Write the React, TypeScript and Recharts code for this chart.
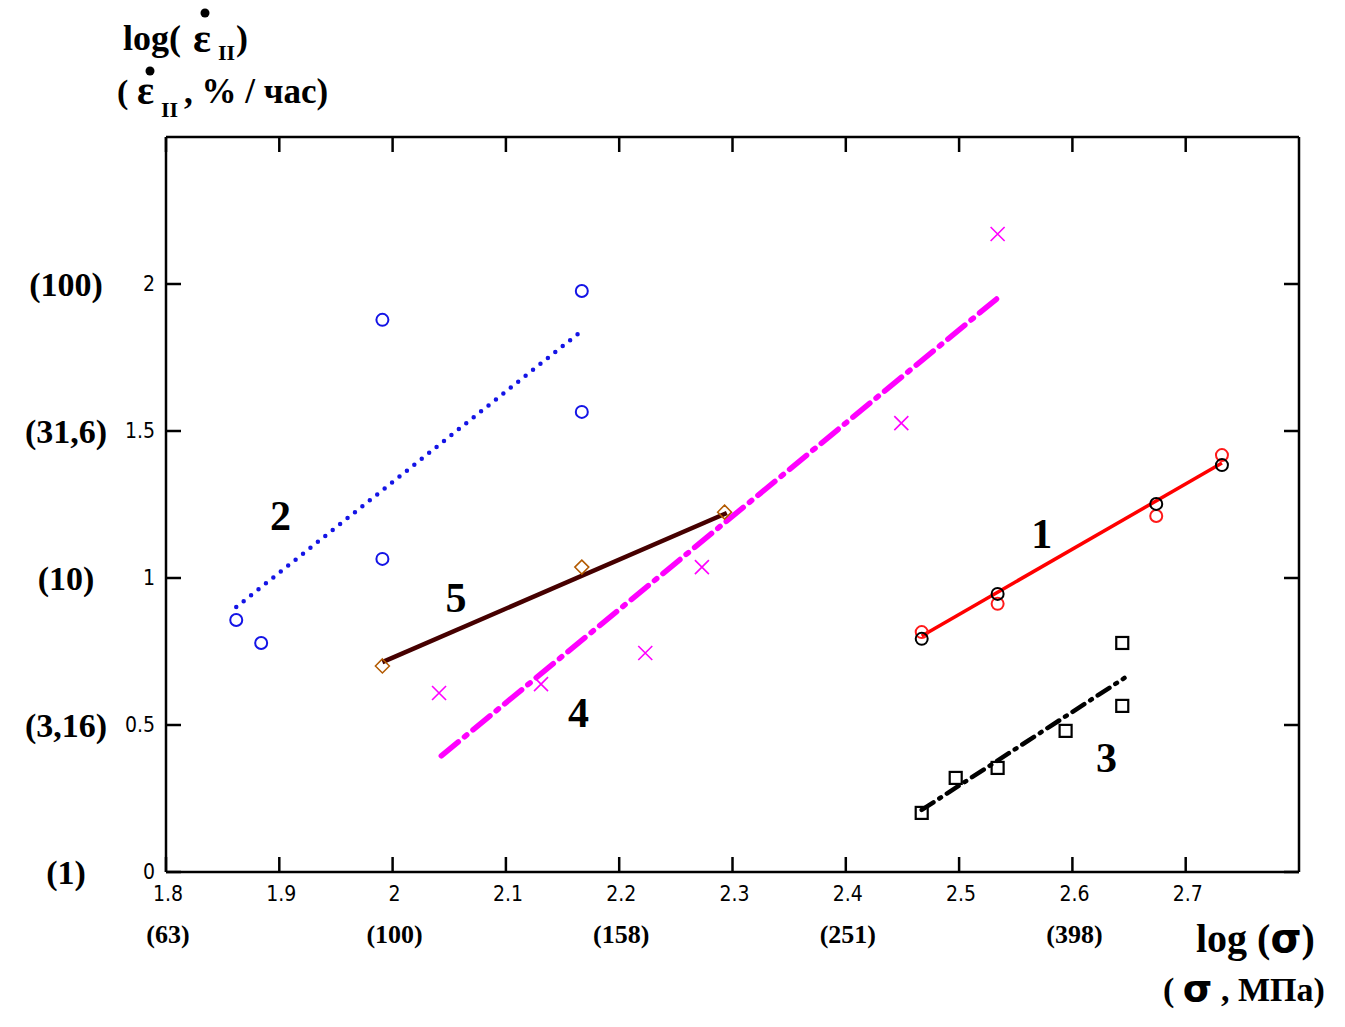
import { ComposedChart, XAxis, YAxis, Scatter, Line } from 'recharts'

// log(sigma) axis
const xTicks = [1.8, 1.9, 2, 2.1, 2.2, 2.3, 2.4, 2.5, 2.6, 2.7]
const yTicks = [0, 0.5, 1, 1.5, 2]
// secondary tick labels in physical units
const sigmaLabels: Record<string, string> = { '1.8': '(63)', '2': '(100)', '2.2': '(158)', '2.4': '(251)', '2.6': '(398)' }
const rateLabels: Record<string, string> = { '0': '(1)', '0.5': '(3,16)', '1': '(10)', '1.5': '(31,6)', '2': '(100)' }

// 1: two data sets (red and black circles) with red fit
const s1Red = [
  { x: 2.467, y: 0.816 },
  { x: 2.534, y: 0.912 },
  { x: 2.674, y: 1.211 },
  { x: 2.732, y: 1.418 },
]
const s1Black = [
  { x: 2.467, y: 0.793 },
  { x: 2.534, y: 0.946 },
  { x: 2.674, y: 1.252 },
  { x: 2.732, y: 1.384 },
]
const fit1 = [
  { x: 2.467, y: 0.803 },
  { x: 2.732, y: 1.391 },
]

// 2: blue circles, dotted fit
const s2 = [
  { x: 1.862, y: 0.857 },
  { x: 1.884, y: 0.779 },
  { x: 1.991, y: 1.878 },
  { x: 1.991, y: 1.065 },
  { x: 2.167, y: 1.976 },
  { x: 2.167, y: 1.565 },
]
const fit2 = [
  { x: 1.862, y: 0.901 },
  { x: 2.169, y: 1.847 },
]

// 3: black squares, dash-dot fit
const s3 = [
  { x: 2.467, y: 0.201 },
  { x: 2.497, y: 0.32 },
  { x: 2.534, y: 0.354 },
  { x: 2.594, y: 0.48 },
  { x: 2.644, y: 0.779 },
  { x: 2.644, y: 0.565 },
]
const fit3 = [
  { x: 2.467, y: 0.211 },
  { x: 2.646, y: 0.66 },
]

// 4: magenta crosses, dash-dot fit
const s4 = [
  { x: 2.041, y: 0.609 },
  { x: 2.131, y: 0.639 },
  { x: 2.223, y: 0.745 },
  { x: 2.273, y: 1.037 },
  { x: 2.449, y: 1.527 },
  { x: 2.534, y: 2.17 },
]
const fit4 = [
  { x: 2.043, y: 0.395 },
  { x: 2.534, y: 1.952 },
]

// 5: brown diamonds, solid fit
const s5 = [
  { x: 1.991, y: 0.701 },
  { x: 2.167, y: 1.037 },
  { x: 2.293, y: 1.224 },
]
const fit5 = [
  { x: 1.991, y: 0.714 },
  { x: 2.295, y: 1.221 },
]

const curveLabels = [
  { x: 2.573, y: 1.153, text: '1' },
  { x: 1.901, y: 1.214, text: '2' },
  { x: 2.63, y: 0.391, text: '3' },
  { x: 2.164, y: 0.544, text: '4' },
  { x: 2.056, y: 0.935, text: '5' },
]

const serif = '"Liberation Serif", "Times New Roman", serif'
const narrow = '"Liberation Sans Narrow", "DejaVu Sans Condensed", "Liberation Sans", sans-serif'
const TICK = 15

const fmt = (v: number) => String(Math.round(v * 10) / 10)

const BottomTick = (props: any) => {
  const { x, y, payload } = props
  const key = fmt(payload.value)
  return (
    <g>
      <line x1={x} x2={x} y1={y} y2={y - TICK} stroke="#000" strokeWidth={2.5} />
      <text x={x + 2} y={y + 29} textAnchor="middle" fontFamily={narrow} fontSize={21} fill="#000">
        {key}
      </text>
      {sigmaLabels[key] && (
        <text x={x + 2} y={y + 71} textAnchor="middle" fontFamily={serif} fontWeight="bold" fontSize={26} fill="#000">
          {sigmaLabels[key]}
        </text>
      )}
    </g>
  )
}

const TopTick = (props: any) => {
  const { x, y } = props
  return <line x1={x} x2={x} y1={y} y2={y + TICK} stroke="#000" strokeWidth={2.5} />
}

const LeftTick = (props: any) => {
  const { x, y, payload } = props
  const key = fmt(payload.value)
  return (
    <g>
      <line x1={x} x2={x + TICK} y1={y} y2={y} stroke="#000" strokeWidth={2.5} />
      <text x={x - 11} y={y + 7} textAnchor="end" fontFamily={narrow} fontSize={21} fill="#000">
        {key}
      </text>
      {rateLabels[key] && (
        <text x={x - 100} y={y + 12} textAnchor="middle" fontFamily={serif} fontWeight="bold" fontSize={34} fill="#000">
          {rateLabels[key]}
        </text>
      )}
    </g>
  )
}

const RightTick = (props: any) => {
  const { x, y } = props
  return <line x1={x} x2={x - TICK} y1={y} y2={y} stroke="#000" strokeWidth={2.5} />
}

const OpenCircle = (color: string) => (p: any) => (
  <circle cx={p.cx} cy={p.cy} r={6} fill="none" stroke={color} strokeWidth={2} />
)

const Square = (p: any) => (
  <rect x={p.cx - 6} y={p.cy - 6} width={12} height={12} fill="none" stroke="#000" strokeWidth={2.2} />
)

const Diamond = (p: any) => (
  <path
    d={`M${p.cx},${p.cy - 7} L${p.cx + 7},${p.cy} L${p.cx},${p.cy + 7} L${p.cx - 7},${p.cy} Z`}
    fill="none"
    stroke="#b35a00"
    strokeWidth={1.5}
  />
)

const Cross = (p: any) => (
  <path
    d={`M${p.cx - 7},${p.cy - 7} L${p.cx + 7},${p.cy + 7} M${p.cx - 7},${p.cy + 7} L${p.cx + 7},${p.cy - 7}`}
    stroke="#ff00ff"
    strokeWidth={1.6}
  />
)

const CurveLabel = (p: any) => (
  <text x={p.cx} y={p.cy + 15} textAnchor="middle" fontFamily={serif} fontWeight="bold" fontSize={42} fill="#000">
    {p.payload.text}
  </text>
)

export default function App() {
  const b = { fontFamily: serif, fontWeight: 'bold' as const, fill: '#000' }
  return (
    <div style={{ position: 'absolute', left: 0, top: 0, width: 1345, height: 1027, background: '#fff' }}>
      <ComposedChart
        width={1345}
        height={1027}
        margin={{ top: 136, right: 45, bottom: 154, left: 165 }}
      >
        <XAxis
          dataKey="x"
          type="number"
          domain={[1.8, 2.8]}
          ticks={xTicks}
          allowDataOverflow
          height={1}
          tickSize={0}
          tickMargin={0}
          tickLine={false}
          interval={0}
          axisLine={{ stroke: '#000', strokeWidth: 2.5 }}
          tick={BottomTick}
        />
        <XAxis
          xAxisId="t"
          orientation="top"
          dataKey="x"
          type="number"
          domain={[1.8, 2.8]}
          ticks={xTicks}
          allowDataOverflow
          height={1}
          tickSize={0}
          tickMargin={0}
          tickLine={false}
          interval={0}
          axisLine={{ stroke: '#000', strokeWidth: 2.5 }}
          tick={TopTick}
        />
        <YAxis
          dataKey="y"
          type="number"
          domain={[0, 2.5]}
          ticks={yTicks}
          allowDataOverflow
          width={1}
          tickSize={0}
          tickMargin={0}
          tickLine={false}
          interval={0}
          axisLine={{ stroke: '#000', strokeWidth: 2.5 }}
          tick={LeftTick}
        />
        <YAxis
          yAxisId="r"
          orientation="right"
          dataKey="y"
          type="number"
          domain={[0, 2.5]}
          ticks={yTicks}
          allowDataOverflow
          width={1}
          tickSize={0}
          tickMargin={0}
          tickLine={false}
          interval={0}
          axisLine={{ stroke: '#000', strokeWidth: 2.5 }}
          tick={RightTick}
        />

        <Line data={fit2} dataKey="y" type="linear" dot={false} stroke="#1414e6" strokeWidth={4.5} strokeDasharray="0 9.5" strokeLinecap="round" isAnimationActive={false} />
        <Line data={fit5} dataKey="y" type="linear" dot={false} stroke="#460000" strokeWidth={4.5} isAnimationActive={false} />
        <Line data={fit4} dataKey="y" type="linear" dot={false} stroke="#ff00ff" strokeWidth={5.5} strokeDasharray="22 8 3 8" strokeLinecap="round" isAnimationActive={false} />
        <Line data={fit1} dataKey="y" type="linear" dot={false} stroke="#ff0000" strokeWidth={3.5} isAnimationActive={false} />
        <Line data={fit3} dataKey="y" type="linear" dot={false} stroke="#000" strokeWidth={4.5} strokeDasharray="14 7 2 7" strokeLinecap="round" isAnimationActive={false} />

        <Scatter data={s2} shape={OpenCircle('#1414e6')} isAnimationActive={false} />
        <Scatter data={s5} shape={Diamond} isAnimationActive={false} />
        <Scatter data={s4} shape={Cross} isAnimationActive={false} />
        <Scatter data={s1Red} shape={OpenCircle('#ff1a1a')} isAnimationActive={false} />
        <Scatter data={s1Black} shape={OpenCircle('#000')} isAnimationActive={false} />
        <Scatter data={s3} shape={Square} isAnimationActive={false} />
        <Scatter data={curveLabels} shape={CurveLabel} isAnimationActive={false} />
      </ComposedChart>

      <svg
        width={1345}
        height={1027}
        style={{ position: 'absolute', left: 0, top: 0, pointerEvents: 'none' }}
      >
        {/* y axis title; the dot over epsilon marks a rate */}
        <text {...b} x={123} y={50} fontSize={36}>log(</text>
        <text {...b} x={193} y={52} fontSize={42}>ε</text>
        <circle cx={205} cy={13} r={4.5} fill="#000" />
        <text {...b} x={218} y={60} fontSize={22}>II</text>
        <text {...b} x={236} y={50} fontSize={36}>)</text>

        <text {...b} x={117} y={103} fontSize={34}>(</text>
        <text {...b} x={137} y={104} fontSize={40}>ε</text>
        <circle cx={150} cy={71} r={4.5} fill="#000" />
        <text {...b} x={161} y={117} fontSize={22}>II</text>
        <text {...b} x={184} y={103} fontSize={35}>, % / час)</text>

        {/* x axis title */}
        <text {...b} x={1196} y={952} fontSize={40}>
          log (<tspan fontFamily='"DejaVu Sans", sans-serif' fontSize={40}>σ</tspan>)
        </text>
        <text {...b} x={1163} y={1001} fontSize={34}>
          ( <tspan fontFamily='"DejaVu Sans", sans-serif' fontSize={38}>σ</tspan> , МПа)
        </text>
      </svg>
    </div>
  )
}
